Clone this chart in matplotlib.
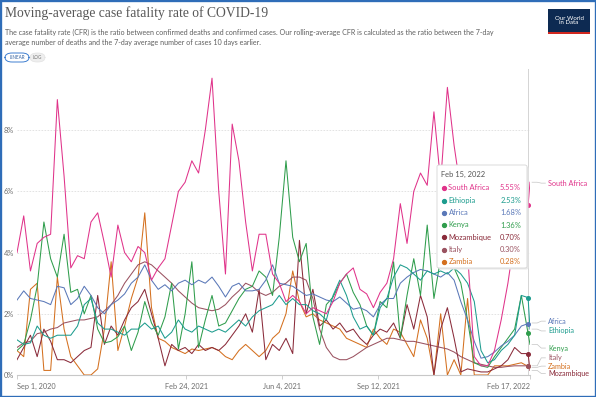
import matplotlib
matplotlib.use("Agg")
import matplotlib.pyplot as plt
from matplotlib.patches import Rectangle, FancyBboxPatch
from matplotlib.lines import Line2D
from matplotlib.transforms import blended_transform_factory
import pandas as pd

# ---------------- data ----------------
weeks = pd.date_range("2020-09-01", periods=77, freq="7D")
dates = list(weeks) + [pd.Timestamp("2022-02-17")]
hover_date = pd.Timestamp("2022-02-15")

south_africa = [4.0, 5.2, 3.4, 4.3, 4.5, 4.6, 9.0, 6.5, 3.5, 3.9,
                3.8, 5.0, 5.3, 4.3, 3.2, 4.9, 4.0, 3.7, 4.2, 4.0,
                3.1, 3.5, 3.8, 4.9, 6.0, 6.3, 7.0, 6.6, 8.0, 9.7,
                6.0, 3.3, 8.2, 7.0, 5.0, 3.4, 4.6, 4.6, 3.3, 3.0,
                2.4, 2.6, 2.4, 2.0, 2.2, 2.1, 2.0, 2.4, 3.0, 3.3,
                3.5, 2.8, 2.65, 2.2, 2.7, 3.0, 3.8, 5.6, 4.3, 6.0,
                6.6, 6.2, 8.6, 6.3, 9.4, 7.5, 6.0, 4.0, 0.6, 0.3,
                0.3, 0.8, 1.8, 3.0, 4.5, 6.5, 5.55, 6.3]

ethiopia = [1.15, 1.0, 1.05, 1.6, 1.3, 1.2, 1.3, 1.3, 1.3, 1.6,
            2.3, 2.5, 1.7, 1.5, 1.5, 1.4, 1.3, 1.5, 1.5, 1.7,
            1.5, 1.6, 1.2, 1.4, 1.8, 1.5, 1.4, 1.6, 1.5, 1.4,
            1.5, 1.4, 1.6, 1.8, 1.6, 1.9, 2.1, 2.2, 2.3, 2.6,
            2.3, 2.5, 2.3, 2.3, 2.1, 2.0, 1.8, 2.6, 3.1, 2.6,
            1.9, 1.5, 1.6, 1.3, 2.2, 2.5, 3.2, 3.6, 3.5, 3.3,
            3.1, 3.4, 3.3, 3.4, 3.3, 3.5, 3.3, 3.0, 2.4, 0.8,
            0.4, 0.5, 0.8, 1.0, 1.3, 2.6, 2.53, 1.5]

africa = [2.45, 2.75, 2.5, 2.45, 2.4, 2.3, 2.9, 2.85, 2.3, 2.5,
          2.9, 2.6, 2.2, 2.0, 2.3, 2.45, 2.65, 3.0, 3.2, 3.6,
          3.1, 2.8, 2.95, 2.75, 3.0, 3.1, 2.95, 3.1, 3.0, 3.2,
          2.9, 2.55, 2.9, 3.0, 2.75, 2.75, 2.8, 3.1, 3.6, 3.0,
          2.95, 2.9, 2.75, 2.6, 2.65, 2.55, 2.45, 2.4, 2.55, 2.35,
          2.15, 2.2, 2.1, 1.9, 2.3, 2.5, 2.5, 3.0, 3.2, 3.35,
          3.45, 3.4, 3.3, 3.2, 3.35, 3.1, 2.4, 1.8, 1.1, 0.55,
          0.6, 0.75, 0.95, 1.1, 1.3, 1.6, 1.68, 1.7]

kenya = [0.8, 1.0, 1.8, 2.9, 5.0, 3.8, 3.2, 4.6, 2.7, 2.8,
         2.0, 2.6, 1.5, 1.05, 1.1, 1.25, 1.6, 0.8, 1.4, 2.4,
         1.7, 1.3, 1.9, 3.0, 0.85, 2.0, 3.7, 0.9, 1.8, 2.6,
         1.6, 1.7, 2.1, 2.5, 2.8, 2.9, 3.4, 3.2, 2.6, 4.5,
         7.0, 4.5, 3.7, 4.3, 1.9, 1.0, 2.3, 2.55, 3.0, 3.3,
         2.7, 2.3, 1.6, 1.3, 2.4, 2.2, 3.7, 1.2, 2.6, 3.8,
         2.6, 4.9, 2.5, 3.8, 3.6, 3.5, 3.0, 1.8, 0.4, 0.3,
         0.25, 0.6, 0.9, 1.2, 1.5, 2.6, 1.36, 1.0]

mozambique = [0.5, 0.9, 1.3, 0.6, 1.5, 1.1, 0.5, 0.5, 0.4, 0.6,
              0.8, 0.9, 2.6, 1.0, 1.6, 1.3, 1.8, 2.2, 2.4, 2.8,
              2.0, 1.2, 0.3, 1.0, 0.8, 0.9, 0.7, 1.0, 0.8, 0.9,
              0.8, 1.0, 1.3, 1.6, 2.0, 1.4, 2.8, 0.5, 1.0, 0.8,
              1.2, 0.7, 4.4, 2.0, 2.8, 1.6, 1.8, 1.5, 1.7, 1.4,
              1.5, 1.2, 1.0, 1.3, 1.5, 1.4, 1.7, 1.2, 2.3, 1.5,
              2.6, 1.9, 0.0, 1.5, 2.2, 1.2, 0.1, 0.2, 0.15, 0.1,
              0.1, 0.2, 0.3, 0.5, 0.9, 0.7, 0.70, 0.15]

italy = [0.9, 1.05, 1.1, 1.35, 1.4, 1.5, 1.55, 1.7, 1.75, 1.8,
         1.8, 1.85, 1.9, 2.1, 2.3, 2.6, 3.0, 3.3, 3.6, 3.7,
         3.6, 3.4, 3.2, 3.0, 2.75, 2.55, 2.35, 2.2, 2.15, 2.1,
         2.15, 2.3, 2.55, 2.75, 3.0, 2.9, 2.7, 2.6, 2.7, 2.9,
         3.0, 3.2, 3.2, 3.1, 2.5, 1.5, 0.9, 0.6, 0.5, 0.5,
         0.6, 0.75, 0.9, 1.0, 1.1, 1.2, 1.2, 1.15, 1.1, 1.1,
         1.05, 1.0, 0.95, 0.9, 0.85, 0.75, 0.6, 0.5, 0.4, 0.35,
         0.3, 0.25, 0.25, 0.28, 0.3, 0.3, 0.30, 0.3]

zambia = [0.8, 0.6, 2.8, 3.0, 0.15, 0.15, 3.2, 1.5, 0.6, 0.3,
          0.0, 0.0, 0.2, 1.5, 3.7, 0.8, 1.6, 2.5, 3.2, 5.3,
          2.2, 1.2, 1.1, 0.9, 0.8, 0.7, 0.85, 0.8, 0.85, 0.9,
          0.8, 0.6, 0.5, 0.8, 1.0, 0.8, 0.6, 0.8, 1.2, 1.4,
          2.0, 3.4, 2.4, 1.9, 2.0, 1.8, 1.7, 1.6, 1.5, 1.2,
          1.1, 1.0, 0.9, 1.5, 1.2, 1.0, 1.5, 1.4, 1.0, 0.6,
          1.8, 1.2, 0.0, 2.0, 0.0, 0.5, 0.0, 2.5, 0.0, 0.0,
          0.0, 0.3, 0.3, 0.3, 0.35, 0.4, 0.28, 0.25]

names = ["South Africa", "Ethiopia", "Africa", "Kenya", "Mozambique", "Italy", "Zambia"]
values = [south_africa, ethiopia, africa, kenya, mozambique, italy, zambia]
colors = ["#e0338a", "#1d9c8e", "#5a78b8", "#2f9d4c", "#8a2b3a", "#9a5260", "#d4701f"]

tick_dates = ["2020-09-01", "2021-02-24", "2021-06-04", "2021-09-12", "2022-02-17"]
tick_labels = ["Sep 1, 2020", "Feb 24, 2021", "Jun 4, 2021", "Sep 12, 2021", "Feb 17, 2022"]
y_ticks = [0, 2, 4, 6, 8]
y_tick_labels = ["0%", "2%", "4%", "6%", "8%"]

title = "Moving-average case fatality rate of COVID-19"
subtitle1 = ("The case fatality rate (CFR) is the ratio between confirmed deaths and confirmed cases. "
             "Our rolling-average CFR is calculated as the ratio between the 7-day")
subtitle2 = "average number of deaths and the 7-day average number of cases 10 days earlier."

# end-label vertical positions (layout, in % units)
label_pos = {"South Africa": 6.27, "Africa": 1.76, "Ethiopia": 1.44, "Kenya": 0.88,
             "Italy": 0.56, "Zambia": 0.29, "Mozambique": 0.05}

# ---------------- figure ----------------
W, H = 596, 397
fig = plt.figure(figsize=(W / 100, H / 100), dpi=100)
fig.patch.set_facecolor("white")


def fx(px):
    return px / W


def fy(py):
    return 1 - py / H


BODY = ["Lato", "DejaVu Sans"]

ax = fig.add_axes([fx(17), fy(375), (530 - 17) / W, (375 - 69) / H])
ax.set_facecolor("white")
ax.set_xlim(pd.Timestamp("2020-09-01"), pd.Timestamp("2022-02-17"))
ax.set_ylim(0, 10)

for s in ["top", "right", "left"]:
    ax.spines[s].set_visible(False)
ax.spines["bottom"].set_color("#c8c8c8")
ax.spines["bottom"].set_linewidth(0.8)

ax.set_yticks(y_ticks)
ax.set_yticklabels(y_tick_labels)
ax.tick_params(axis="y", length=0, pad=2, labelsize=5.3, labelcolor="#6e6e6e")
for lab in ax.get_yticklabels():
    lab.set_family(BODY)
ax.yaxis.grid(True, linestyle=(0, (2, 1.6)), color="#dedede", lw=0.6)
ax.set_axisbelow(True)

ax.set_xticks([pd.Timestamp(d) for d in tick_dates])
ax.set_xticklabels(tick_labels)
ax.tick_params(axis="x", length=3, width=0.6, color="#c8c8c8", pad=2.5,
               labelsize=5.3, labelcolor="#6e6e6e")
xl = ax.get_xticklabels()
for lab in xl:
    lab.set_family(BODY)
xl[0].set_ha("left")
xl[-1].set_ha("right")

# hover line
ax.axvline(hover_date, color="#d4d4d4", lw=0.7, zorder=1)

# lines (draw South Africa last so it sits on top)
order = [6, 5, 4, 3, 2, 1, 0]
for i in order:
    ax.plot(dates, values[i], color=colors[i], lw=0.75, zorder=3, solid_joinstyle="round")

hover_idx = dates.index(hover_date)
for i in order:
    ax.plot([hover_date], [values[i][hover_idx]], "o", ms=2.6, color=colors[i], zorder=6)

# end labels with leader lines
bt = blended_transform_factory(ax.transAxes, ax.transData)
for name, vals, c in zip(names, values, colors):
    ly = label_pos[name]
    ax.plot([1.004, 1.014, 1.022, 1.03], [vals[-1], vals[-1], ly, ly], transform=bt,
            color="#c4c4c4", lw=0.5, clip_on=False, zorder=2)
    ax.text(1.035, ly, name, transform=bt, color=c, fontsize=5.2, family=BODY,
            va="center", ha="left", clip_on=False)

# ---------------- header ----------------
t_title = fig.text(fx(5), fy(13), title, family=["Liberation Serif", "DejaVu Serif"],
                   fontsize=11, color="#585858", va="center", ha="left")
t_sub1 = fig.text(fx(5), fy(32), subtitle1, family=BODY, fontsize=5, color="#5f5f5f",
                  va="center", ha="left")
t_sub2 = fig.text(fx(5), fy(43), subtitle2, family=BODY, fontsize=5, color="#5f5f5f",
                  va="center", ha="left")

renderer = fig.canvas.get_renderer()


def fit(t, target_px):
    w = t.get_window_extent(renderer).width
    t.set_fontsize(t.get_fontsize() * target_px / w)


fit(t_title, 262)
fit(t_sub1, 498)
t_sub2.set_fontsize(t_sub1.get_fontsize())

# LINEAR / LOG toggle
fig.add_artist(FancyBboxPatch((fx(30), fy(62)), fx(45) - fx(30), (62 - 53) / H,
                              boxstyle="round,pad=0,rounding_size=0.012",
                              transform=fig.transFigure, facecolor="#eeeeee",
                              edgecolor="#e2e2e2", lw=0.5))
fig.add_artist(FancyBboxPatch((fx(5), fy(62)), fx(29) - fx(5), (62 - 53) / H,
                              boxstyle="round,pad=0,rounding_size=0.012",
                              transform=fig.transFigure, facecolor="white",
                              edgecolor="#3f7fd0", lw=0.7))
fig.text(fx(17), fy(57.5), "LINEAR", family=BODY, fontsize=3.3, color="#2f5f9f",
         ha="center", va="center")
fig.text(fx(37.5), fy(57.5), "LOG", family=BODY, fontsize=3.3, color="#777777",
         ha="center", va="center")

# logo
fig.add_artist(Rectangle((fx(548), fy(34)), fx(590) - fx(548), (34 - 9) / H,
                         transform=fig.transFigure, facecolor="#0d2a52", edgecolor="none"))
fig.add_artist(Rectangle((fx(548), fy(34)), fx(590) - fx(548), 2.2 / H,
                         transform=fig.transFigure, facecolor="#d1271f", edgecolor="none"))
fig.text(fx(569), fy(20.5), "Our World\nin Data", family=BODY, fontsize=4.4, color="white",
         ha="center", va="center", linespacing=0.95)

# ---------------- tooltip ----------------
fig.add_artist(FancyBboxPatch((fx(438.5), fy(269.5)), fx(527) - fx(437), (268 - 165) / H,
                              boxstyle="round,pad=0,rounding_size=0.004",
                              transform=fig.transFigure, facecolor="#e9e9e9",
                              edgecolor="none", zorder=9.5))
fig.add_artist(FancyBboxPatch((fx(437), fy(268)), fx(527) - fx(437), (268 - 165) / H,
                              boxstyle="round,pad=0,rounding_size=0.004",
                              transform=fig.transFigure, facecolor="white",
                              edgecolor="#d6d6d6", lw=0.6, zorder=10))
fig.text(fx(441), fy(174.5), hover_date.strftime("%b %d, %Y").replace(" 0", " "),
         family=BODY, fontsize=5.4, color="#555555", ha="left", va="center", zorder=11)

tip = sorted(zip(names, values, colors), key=lambda r: -r[1][hover_idx])
row_y = [188, 200.5, 212.5, 225, 237, 249.5, 262]
for (name, vals, c), py in zip(tip, row_y):
    fig.add_artist(Line2D([fx(443.5)], [fy(py)], marker="o", ms=2.8, color=c,
                          transform=fig.transFigure, zorder=11))
    fig.text(fx(448.5), fy(py), name, family=BODY, fontsize=5.4, color=c,
             ha="left", va="center", zorder=11)
    fig.text(fx(521), fy(py), f"{vals[hover_idx]:.2f}%", family=BODY, fontsize=5.4,
             color=c, ha="right", va="center", zorder=11)

# blue screenshot frame
fig.add_artist(Rectangle((0, 0), 1, 1, transform=fig.transFigure, fill=False,
                         edgecolor="#2f6db8", lw=2.4, zorder=20))

fig.savefig("out.png", dpi=100, facecolor="white")
